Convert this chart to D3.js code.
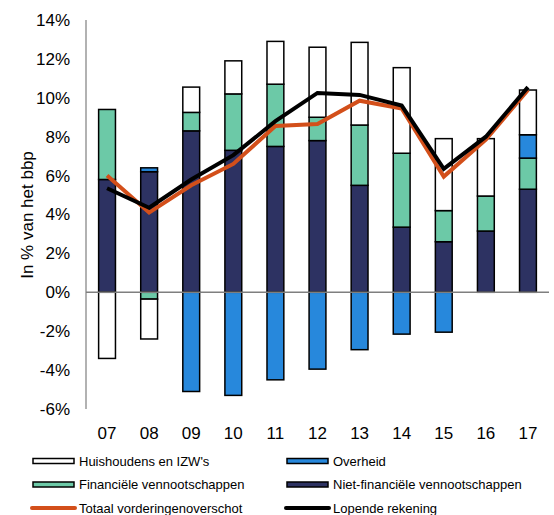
<!DOCTYPE html>
<meta charset="utf-8">
<style>
body { margin: 0; background: #fff; }
text { font-family: "Liberation Sans", Arial, sans-serif; fill: #000; }
</style>
<svg width="554" height="515"></svg>
<script src="https://d3js.org/d3.v7.min.js"></script>
<script>

var years = ["07","08","09","10","11","12","13","14","15","16","17"];
var nietFin = [5.8, 6.2, 8.3, 7.3, 7.5, 7.8, 5.5, 3.35, 2.6, 3.15, 5.3];
var financieel = [3.6, -0.35, 0.95, 2.9, 3.2, 1.2, 3.1, 3.8, 1.6, 1.8, 1.6];
var overheid = [0, 0.2, -5.1, -5.3, -4.5, -3.95, -2.95, -2.15, -2.05, 0, 1.2];
var huishoudens = [-3.4, -2.05, 1.3, 1.7, 2.2, 3.6, 4.25, 4.4, 3.7, 2.95, 2.3];
var totaal = [6.0, 4.1, 5.5, 6.6, 8.55, 8.65, 9.85, 9.45, 5.95, 7.85, 10.4];
var lopend = [5.35, 4.35, 5.8, 7.05, 8.8, 10.25, 10.15, 9.6, 6.35, 8.0, 10.55];
var yTicks = [-6, -4, -2, 0, 2, 4, 6, 8, 10, 12, 14];

var svg = d3.select("svg");

var x = d3.scaleBand()
    .domain(years)
    .range([86, 549])
    .paddingInner(0.6)
    .paddingOuter(0.3);

var y = d3.scaleLinear()
    .domain([-6, 14])
    .range([409, 20]);

var keys = ["niet", "fin", "over", "huis"];
var colors = {niet: "#2d3262", fin: "#6cc9a7", over: "#2788dc", huis: "#ffffff"};

var table = years.map(function(d, i) {
  return {year: d, niet: nietFin[i], fin: financieel[i], over: overheid[i], huis: huishoudens[i]};
});

var series = d3.stack()
    .keys(keys)
    .offset(d3.stackOffsetDiverging)(table);

// y axis labels
svg.append("g").selectAll("text")
  .data(yTicks)
  .enter().append("text")
    .attr("x", 70)
    .attr("y", function(d) { return y(d); })
    .attr("dy", "0.35em")
    .attr("text-anchor", "end")
    .style("font-size", "17px")
    .text(function(d) { return d + "%"; });

svg.append("text")
    .attr("transform", "translate(33," + 215 + ") rotate(-90)")
    .attr("text-anchor", "middle")
    .style("font-size", "17px")
    .text("In % van het bbp");

// x labels
svg.append("g").selectAll("text")
  .data(years)
  .enter().append("text")
    .attr("x", function(d) { return x(d) + x.bandwidth() / 2; })
    .attr("y", 439)
    .attr("text-anchor", "middle")
    .style("font-size", "17px")
    .text(function(d) { return d; });

// bars
svg.append("g").selectAll("g")
  .data(series)
  .enter().append("g")
    .attr("fill", function(d) { return colors[d.key]; })
  .selectAll("rect")
  .data(function(d) { return d.filter(function(p) { return p[1] - p[0] !== 0; }); })
  .enter().append("rect")
    .attr("x", function(d) { return x(d.data.year); })
    .attr("width", x.bandwidth())
    .attr("y", function(d) { return y(d[1]); })
    .attr("height", function(d) { return y(d[0]) - y(d[1]); })
    .attr("stroke", "#000")
    .attr("stroke-width", 1.5);

// axis lines
svg.append("line")
    .attr("x1", 86).attr("x2", 86)
    .attr("y1", y(14)).attr("y2", y(-6))
    .attr("stroke", "#7f7f7f").attr("stroke-width", 1.2);

svg.append("line")
    .attr("x1", 86).attr("x2", 549)
    .attr("y1", y(0)).attr("y2", y(0))
    .attr("stroke", "#7f7f7f").attr("stroke-width", 1.5);

// lines
var line = d3.line()
    .x(function(d, i) { return x(years[i]) + x.bandwidth() / 2; })
    .y(function(d) { return y(d); });

svg.append("path")
    .datum(totaal)
    .attr("fill", "none")
    .attr("stroke", "#d34f1a")
    .attr("stroke-width", 4)
    .attr("d", line);

svg.append("path")
    .datum(lopend)
    .attr("fill", "none")
    .attr("stroke", "#000")
    .attr("stroke-width", 4)
    .attr("d", line);

// legend
var legendItems = [
  {label: "Huishoudens en IZW's", type: "bar", color: colors.huis, col: 0, row: 0},
  {label: "Overheid", type: "bar", color: colors.over, col: 1, row: 0},
  {label: "Financiële vennootschappen", type: "bar", color: colors.fin, col: 0, row: 1},
  {label: "Niet-financiële vennootschappen", type: "bar", color: colors.niet, col: 1, row: 1},
  {label: "Totaal vorderingenoverschot", type: "line", color: "#d34f1a", col: 0, row: 2},
  {label: "Lopende rekening", type: "line", color: "#000", col: 1, row: 2}
];

var lg = svg.append("g").selectAll("g")
  .data(legendItems)
  .enter().append("g")
    .attr("transform", function(d) { return "translate(" + (d.col ? 286 : 32) + "," + (461 + d.row * 23.5) + ")"; });

lg.filter(function(d) { return d.type === "bar"; })
  .append("rect")
    .attr("x", 1).attr("y", -2.5)
    .attr("width", 41).attr("height", 5)
    .attr("fill", function(d) { return d.color; })
    .attr("stroke", "#000")
    .attr("stroke-width", 1.5);

lg.filter(function(d) { return d.type === "line"; })
  .append("line")
    .attr("x1", 0).attr("x2", 43)
    .attr("y1", 0).attr("y2", 0)
    .attr("stroke", function(d) { return d.color; })
    .attr("stroke-width", 4)
    .attr("stroke-linecap", "round");

lg.append("text")
    .attr("x", 47)
    .attr("dy", "0.35em")
    .style("font-size", "13px")
    .text(function(d) { return d.label; });

</script>
